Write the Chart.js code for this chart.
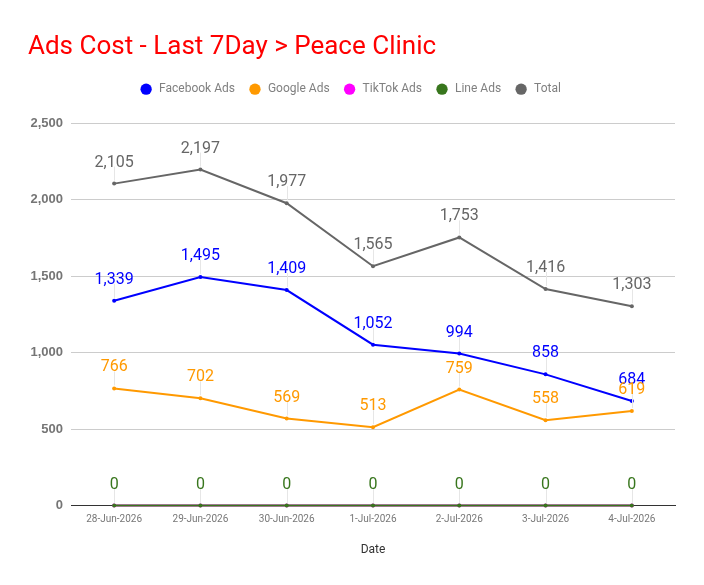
<!DOCTYPE html>
<html>
<head>
<meta charset="utf-8">
<script src="https://cdn.jsdelivr.net/npm/chart.js@4"></script>
<style>
html,body{margin:0;padding:0;background:#fff;}
#wrap{width:704px;height:585px;}
</style>
</head>
<body>
<div id="wrap"><canvas id="c"></canvas></div>
<script>
const categories = ['28-Jun-2026','29-Jun-2026','30-Jun-2026','1-Jul-2026','2-Jul-2026','3-Jul-2026','4-Jul-2026'];
const facebookAds = [1339,1495,1409,1052,994,858,684];
const googleAds = [766,702,569,513,759,558,619];
const tiktokAds = [0,0,0,0,0,0,0];
const lineAds = [0,0,0,0,0,0,0];
const totalCost = [2105,2197,1977,1565,1753,1416,1303];
const yTicks = [0,500,1000,1500,2000,2500];

const fmt = v => v.toLocaleString('en-US');

const labelPlugin = {
  id: 'pointLabels',
  afterDatasetsDraw(chart) {
    const ctx = chart.ctx;
    const dss = chart.data.datasets;
    ctx.save();
    dss.forEach((ds, i) => {
      const meta = chart.getDatasetMeta(i);
      if (meta.hidden) return;
      meta.data.forEach((pt, j) => {
        const x = pt.x, y = pt.y;
        // a label exactly covered by a later series' identical label is not redrawn
        const covered = dss.some((d2, k) => k > i && d2.data[j] === ds.data[j] &&
          Math.abs(chart.getDatasetMeta(k).data[j].y - y) < 0.5);
        ctx.strokeStyle = '#e6e6e6';
        ctx.lineWidth = 1;
        ctx.beginPath();
        ctx.moveTo(Math.round(x) + 0.5, y - 3);
        ctx.lineTo(Math.round(x) + 0.5, y - 17);
        ctx.stroke();
        if (covered) return;
        ctx.fillStyle = ds.borderColor;
        ctx.font = '16px Roboto';
        ctx.textAlign = 'center';
        ctx.textBaseline = 'alphabetic';
        ctx.fillText(fmt(ds.data[j]), x, y - 17);
      });
    });
    ctx.restore();
  }
};

const legendSpacer = {
  id: 'legendSpacer',
  afterInit(chart) {
    const lg = chart.legend;
    if (!lg) return;
    const orig = lg.fit;
    lg.fit = function () { orig.call(this); this.height += 18; };
  }
};

function mk(label, data, color, order) {
  return {label, data, borderColor: color, backgroundColor: color, order, clip: false,
    borderWidth: 2, pointRadius: 2, pointBorderWidth: 0, pointHoverRadius: 2, tension: 0, fill: false};
}

new Chart(document.getElementById('c'), {
  type: 'line',
  data: {
    labels: categories,
    datasets: [
      mk('Facebook Ads', facebookAds, '#0000ff', 1),
      mk('Google Ads', googleAds, '#ff9900', 2),
      mk('TikTok Ads', tiktokAds, '#ff00ff', 9),
      mk('Line Ads', lineAds, '#38761d', 0),
      mk('Total', totalCost, '#666666', 5)
    ]
  },
  options: {
    responsive: true,
    maintainAspectRatio: false,
    animation: false,
    layout: {padding: {left: 28, right: 29, top: 20, bottom: 24}},
    plugins: {
      title: {display: true, text: 'Ads Cost - Last 7Day > Peace Clinic', align: 'start',
        color: '#ff0000', font: {family: 'Roboto', size: 26, weight: 'normal'},
        padding: {top: 12, bottom: 4}},
      legend: {position: 'top', labels: {usePointStyle: true, pointStyle: 'circle', boxWidth: 8, boxHeight: 8,
        color: '#808080', font: {family: 'Roboto', size: 12}, padding: 16,
        sort: (a, b) => a.datasetIndex - b.datasetIndex,
        generateLabels: chart => Chart.defaults.plugins.legend.labels.generateLabels(chart)
          .map(l => Object.assign(l, {text: ' ' + l.text}))}},
      tooltip: {enabled: false}
    },
    scales: {
      x: {
        offset: true,
        grid: {display: false, drawTicks: false},
        border: {color: '#333333', width: 1},
        ticks: {color: '#777777', font: {family: 'Roboto', size: 10}, padding: 8, maxRotation: 0},
        title: {display: true, text: 'Date', color: '#333333', font: {family: 'Roboto', size: 12}, padding: {top: 9}}
      },
      y: {
        min: 0, max: 2500,
        afterBuildTicks: s => { s.ticks = yTicks.map(v => ({value: v})); },
        afterFit: s => { s.width = 43; },
        grid: {color: '#cccccc', drawTicks: false},
        border: {display: false},
        ticks: {color: '#757575', font: {family: 'Liberation Sans', size: 13, weight: 'bold'}, padding: 8,
          callback: v => fmt(v)}
      }
    }
  },
  plugins: [labelPlugin, legendSpacer]
});
</script>
</body>
</html>
